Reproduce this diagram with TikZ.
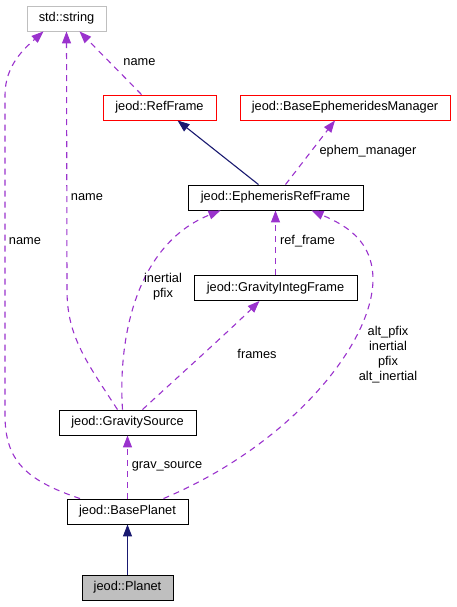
\documentclass[tikz,border=0pt]{standalone}
\usepackage{fontspec}
\setmainfont{Liberation Sans}
\usetikzlibrary{arrows.meta,calc}
\definecolor{dep}{HTML}{9A32CD}
\definecolor{inh}{HTML}{191970}
\definecolor{grayb}{HTML}{BFBFBF}
\begin{document}
\begin{tikzpicture}[x=1pt,y=-1pt,
  every node/.style={font=\fontsize{12.8}{15}\selectfont},
  box/.style={draw=black,line width=0.9pt,minimum height=25pt,inner sep=0pt,fill=white},
  redbox/.style={box,draw=red},
  graybox/.style={box,draw=grayb},
  depedge/.style={draw=dep,line width=1.1pt,dash pattern=on 6pt off 5pt,-{Triangle[length=12pt,width=9pt]},dep},
  inhedge/.style={draw=inh,line width=1.1pt,-{Triangle[length=12pt,width=9pt]},inh},
  lbl/.style={align=center,inner sep=0pt}]
\useasboundingbox (0,0) rectangle (456,607);
\node[graybox,minimum width=79pt] (str) at (66.5,18.5) {std::string};
\node[redbox,minimum width=113pt] (ref) at (159.5,107.5) {jeod::RefFrame};
\node[redbox,minimum width=210pt] (bem) at (345,107.5) {jeod::BaseEphemeridesManager};
\node[box,minimum width=175pt] (erf) at (275.5,197.5) {jeod::EphemerisRefFrame};
\node[box,minimum width=163pt] (gif) at (275.5,288) {jeod::GravityIntegFrame};
\node[box,minimum width=137pt] (gs) at (127.5,422.5) {jeod::GravitySource};
\node[box,minimum width=121pt] (bp) at (127.5,511.5) {jeod::BasePlanet};
\node[box,fill=grayb,minimum width=91pt] (pl) at (127.5,587.5) {jeod::Planet};

% RefFrame -> string
\draw[depedge] ([xshift=-18pt]ref.north) -- ([xshift=13pt]str.south);
\node[lbl] (l1) at (139.5,62) {name};
% EphemerisRefFrame -> RefFrame
\draw[inhedge] ([xshift=-17pt]erf.north) -- ([xshift=18pt]ref.south);
% EphemerisRefFrame -> BaseEphemeridesManager
\draw[depedge] ([xshift=10pt]erf.north) -- ([xshift=-10pt]bem.south);
\node[lbl] (l2) at (368,151.5) {ephem\_manager};
% GravityIntegFrame -> EphemerisRefFrame
\draw[depedge] (gif.north) -- (erf.south);
\node[lbl] (l3) at (307.5,240.7) {ref\_frame};
% GravitySource -> EphemerisRefFrame
\draw[depedge] ([xshift=-5pt]gs.north) .. controls (118,340) and (135,245) .. ([xshift=-55pt]erf.south);
\node[lbl] (l4) at (163,287) {inertial\\pfix};
% GravitySource -> GravityIntegFrame
\draw[depedge] ([xshift=15pt]gs.north) .. controls (180,375) and (230,330) .. ([xshift=-16pt]gif.south);
\node[lbl] (l5) at (257,354) {frames};
% GravitySource -> string
\draw[depedge] ([xshift=-10pt]gs.north) .. controls (85,360) and (67,335) .. (67,290) -- (str.south);
\node[lbl] (l6) at (87,196.7) {name};
% BasePlanet -> string
\draw[depedge] ([xshift=-47.5pt]bp.north) .. controls (25,480) and (5,460) .. (5,415) -- (5,95) .. controls (5,65) and (25,48) .. ([xshift=-23pt]str.south);
\node[lbl] (l7) at (25,241) {name};
% BasePlanet -> GravitySource
\draw[depedge] (bp.north) -- (gs.south);
\node[lbl] (l8) at (167,466.7) {grav\_source};
% BasePlanet -> EphemerisRefFrame
\draw[depedge] ([xshift=36pt]bp.north) .. controls (290,445) and (372,345) .. (373,280) .. controls (373,240) and (345,225) .. ([xshift=36pt]erf.south);
\node[lbl] (l9) at (388,354.5) {alt\_pfix\\inertial\\pfix\\alt\_inertial};
% Planet -> BasePlanet
\draw[inhedge] (pl.north) -- (bp.south);
\end{tikzpicture}
\end{document}
